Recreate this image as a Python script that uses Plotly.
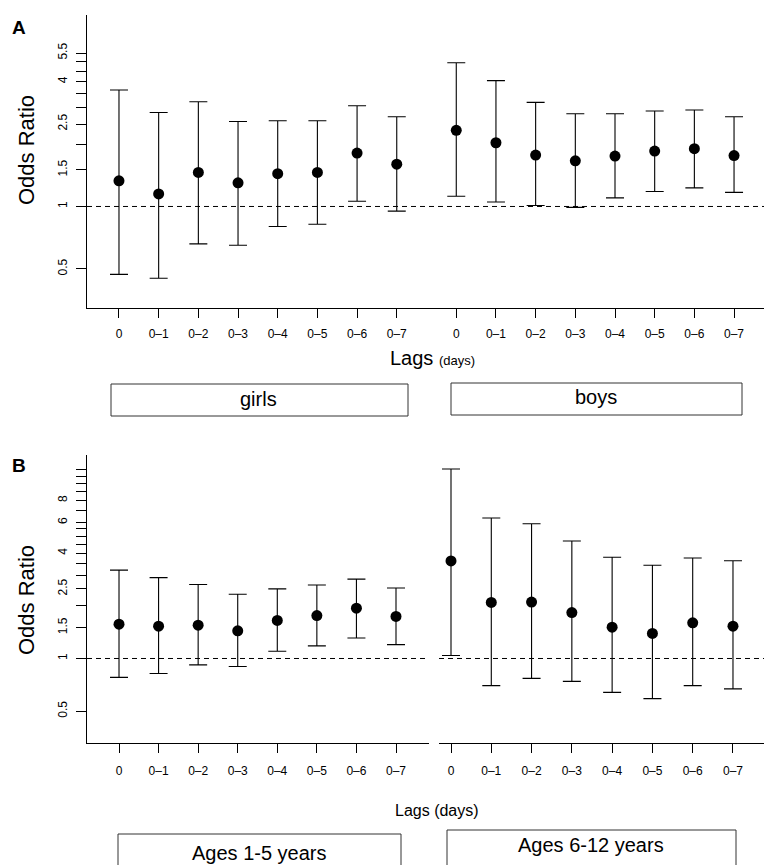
import plotly.graph_objects as go

# ---------------- data ----------------
lags = ["0", "0\u20131", "0\u20132", "0\u20133", "0\u20134", "0\u20135", "0\u20136", "0\u20137"]

girls_or = [1.33, 1.15, 1.46, 1.30, 1.44, 1.46, 1.81, 1.60]
girls_lo = [0.47, 0.45, 0.66, 0.65, 0.80, 0.82, 1.06, 0.95]
girls_hi = [3.65, 2.84, 3.20, 2.57, 2.59, 2.59, 3.06, 2.71]

boys_or = [2.33, 2.03, 1.77, 1.66, 1.75, 1.85, 1.90, 1.76]
boys_lo = [1.12, 1.05, 1.01, 0.99, 1.10, 1.18, 1.23, 1.17]
boys_hi = [4.94, 4.05, 3.18, 2.80, 2.80, 2.89, 2.92, 2.71]

young_or = [1.57, 1.53, 1.55, 1.44, 1.65, 1.76, 1.94, 1.74]
young_lo = [0.78, 0.82, 0.92, 0.90, 1.10, 1.18, 1.31, 1.20]
young_hi = [3.20, 2.90, 2.65, 2.33, 2.50, 2.63, 2.84, 2.53]

old_or = [3.61, 2.09, 2.10, 1.83, 1.51, 1.39, 1.60, 1.53]
old_lo = [1.04, 0.70, 0.77, 0.74, 0.64, 0.59, 0.70, 0.67]
old_hi = [12.1, 6.35, 5.89, 4.69, 3.79, 3.41, 3.75, 3.62]

yticks_a = [0.5, 1, 1.5, 2, 2.5, 3, 3.5, 4, 4.5, 5, 5.5]
ylabels_a = ["0.5", "1", "1.5", "", "2.5", "", "", "4", "", "", "5.5"]
yticks_b = [0.5, 1, 1.5, 2, 2.5, 3, 3.5, 4, 4.5, 5, 5.5, 6, 7, 8, 9, 10, 11, 12]
ylabels_b = ["0.5", "1", "1.5", "", "2.5", "", "", "4", "", "", "", "6", "", "8", "", "", "", ""]

group_a = ["girls", "boys"]
group_b = ["Ages 1-5 years", "Ages 6-12 years"]

W, H = 764, 865
FONT = "Liberation Sans, Arial, sans-serif"


def px(x):
    return x / W


def py(y):
    return 1 - y / H


idx = list(range(len(lags)))
gap_a = 8.5
pos_girls = idx
pos_boys = [i + gap_a for i in idx]

fig = go.Figure()


def add_series(x, ors, lo, hi, xa, ya):
    fig.add_trace(go.Scatter(
        x=x, y=ors, mode="markers", xaxis=xa, yaxis=ya,
        marker=dict(color="black", size=11),
        error_y=dict(type="data", symmetric=False,
                     array=[h - o for h, o in zip(hi, ors)],
                     arrayminus=[o - l for o, l in zip(ors, lo)],
                     color="black", thickness=1.1, width=9),
        showlegend=False, hoverinfo="skip"))


def add_ref(xr, xa, ya):
    fig.add_trace(go.Scatter(
        x=xr, y=[1, 1], mode="lines", xaxis=xa, yaxis=ya,
        line=dict(color="black", width=1, dash="5px,4px"),
        showlegend=False, hoverinfo="skip"))


# Panel A
xr_a = [-0.806, 16.255]
add_ref(xr_a, "x", "y")
add_series(pos_girls, girls_or, girls_lo, girls_hi, "x", "y")
add_series(pos_boys, boys_or, boys_lo, boys_hi, "x", "y")

# Panel B
xr_b1 = [-0.809, 7.834]
xr_b2 = [-0.298, 7.77]
add_ref(xr_b1, "x2", "y2")
add_ref(xr_b2, "x3", "y2")
add_series(idx, young_or, young_lo, young_hi, "x2", "y2")
add_series(idx, old_or, old_lo, old_hi, "x3", "y2")

axis_common = dict(showline=True, linecolor="black", linewidth=1, showgrid=False,
                   zeroline=False, ticks="outside", tickcolor="black",
                   tickfont=dict(family=FONT, size=12, color="black"), fixedrange=True)

fig.update_layout(
    width=W, height=H, margin=dict(l=0, r=0, t=0, b=0),
    paper_bgcolor="white", plot_bgcolor="white",
    xaxis=dict(domain=[px(87), 1], range=xr_a, anchor="y",
               tickmode="array", tickvals=pos_girls + pos_boys, ticktext=lags + lags,
               ticklen=9, ticklabelstandoff=6, **axis_common),
    yaxis=dict(domain=[py(308), py(15)], type="log", range=[-0.490, 0.924], anchor="x",
               tickmode="array", tickvals=yticks_a, ticktext=ylabels_a, tickangle=-90,
               ticklen=10, ticklabelstandoff=4, **axis_common),
    xaxis2=dict(domain=[px(87), px(429)], range=xr_b1, anchor="y2",
                tickmode="array", tickvals=idx, ticktext=lags,
                ticklen=9, ticklabelstandoff=8, **axis_common),
    xaxis3=dict(domain=[px(439), 1], range=xr_b2, anchor="y2",
                tickmode="array", tickvals=idx, ticktext=lags,
                ticklen=9, ticklabelstandoff=8, **axis_common),
    yaxis2=dict(domain=[py(743), py(455)], type="log", range=[-0.483, 1.163], anchor="x2",
                tickmode="array", tickvals=yticks_b, ticktext=ylabels_b, tickangle=-90,
                ticklen=10, ticklabelstandoff=4, **axis_common),
)

annots = []


def txt(x, y, s, size, bold=False, angle=0):
    annots.append(dict(x=px(x), y=py(y), xref="paper", yref="paper", text=(f"<b>{s}</b>" if bold else s),
                       showarrow=False, textangle=angle, xanchor="center", yanchor="middle",
                       font=dict(family=FONT, size=size, color="black")))


txt(19, 28, "A", 19, bold=True)
txt(19, 465, "B", 19, bold=True)
txt(26, 150, "Odds Ratio", 22, angle=-90)
txt(26, 600, "Odds Ratio", 22, angle=-90)
txt(432, 358, "Lags <span style='font-size:13px'>(days)</span>", 20)
txt(437, 810, "Lags (days)", 16)

shapes = []


def box(x0, x1, y0, y1):
    shapes.append(dict(type="rect", xref="paper", yref="paper",
                       x0=px(x0), x1=px(x1), y0=py(y1), y1=py(y0),
                       line=dict(color="#333333", width=1), fillcolor="rgba(0,0,0,0)"))


box(111, 408, 384, 416)
box(451, 742, 383, 415)
txt(258, 399, group_a[0], 20)
txt(596, 397, group_a[1], 20)
box(118, 401, 834, 890)
box(447, 736, 830, 890)
txt(259, 853, group_b[0], 20)
txt(591, 845, group_b[1], 20)

fig.update_layout(annotations=annots, shapes=shapes)
fig.write_html("out.html", config={"displayModeBar": False},
               post_script="document.body.style.margin='0px';document.body.style.overflow='hidden';")
